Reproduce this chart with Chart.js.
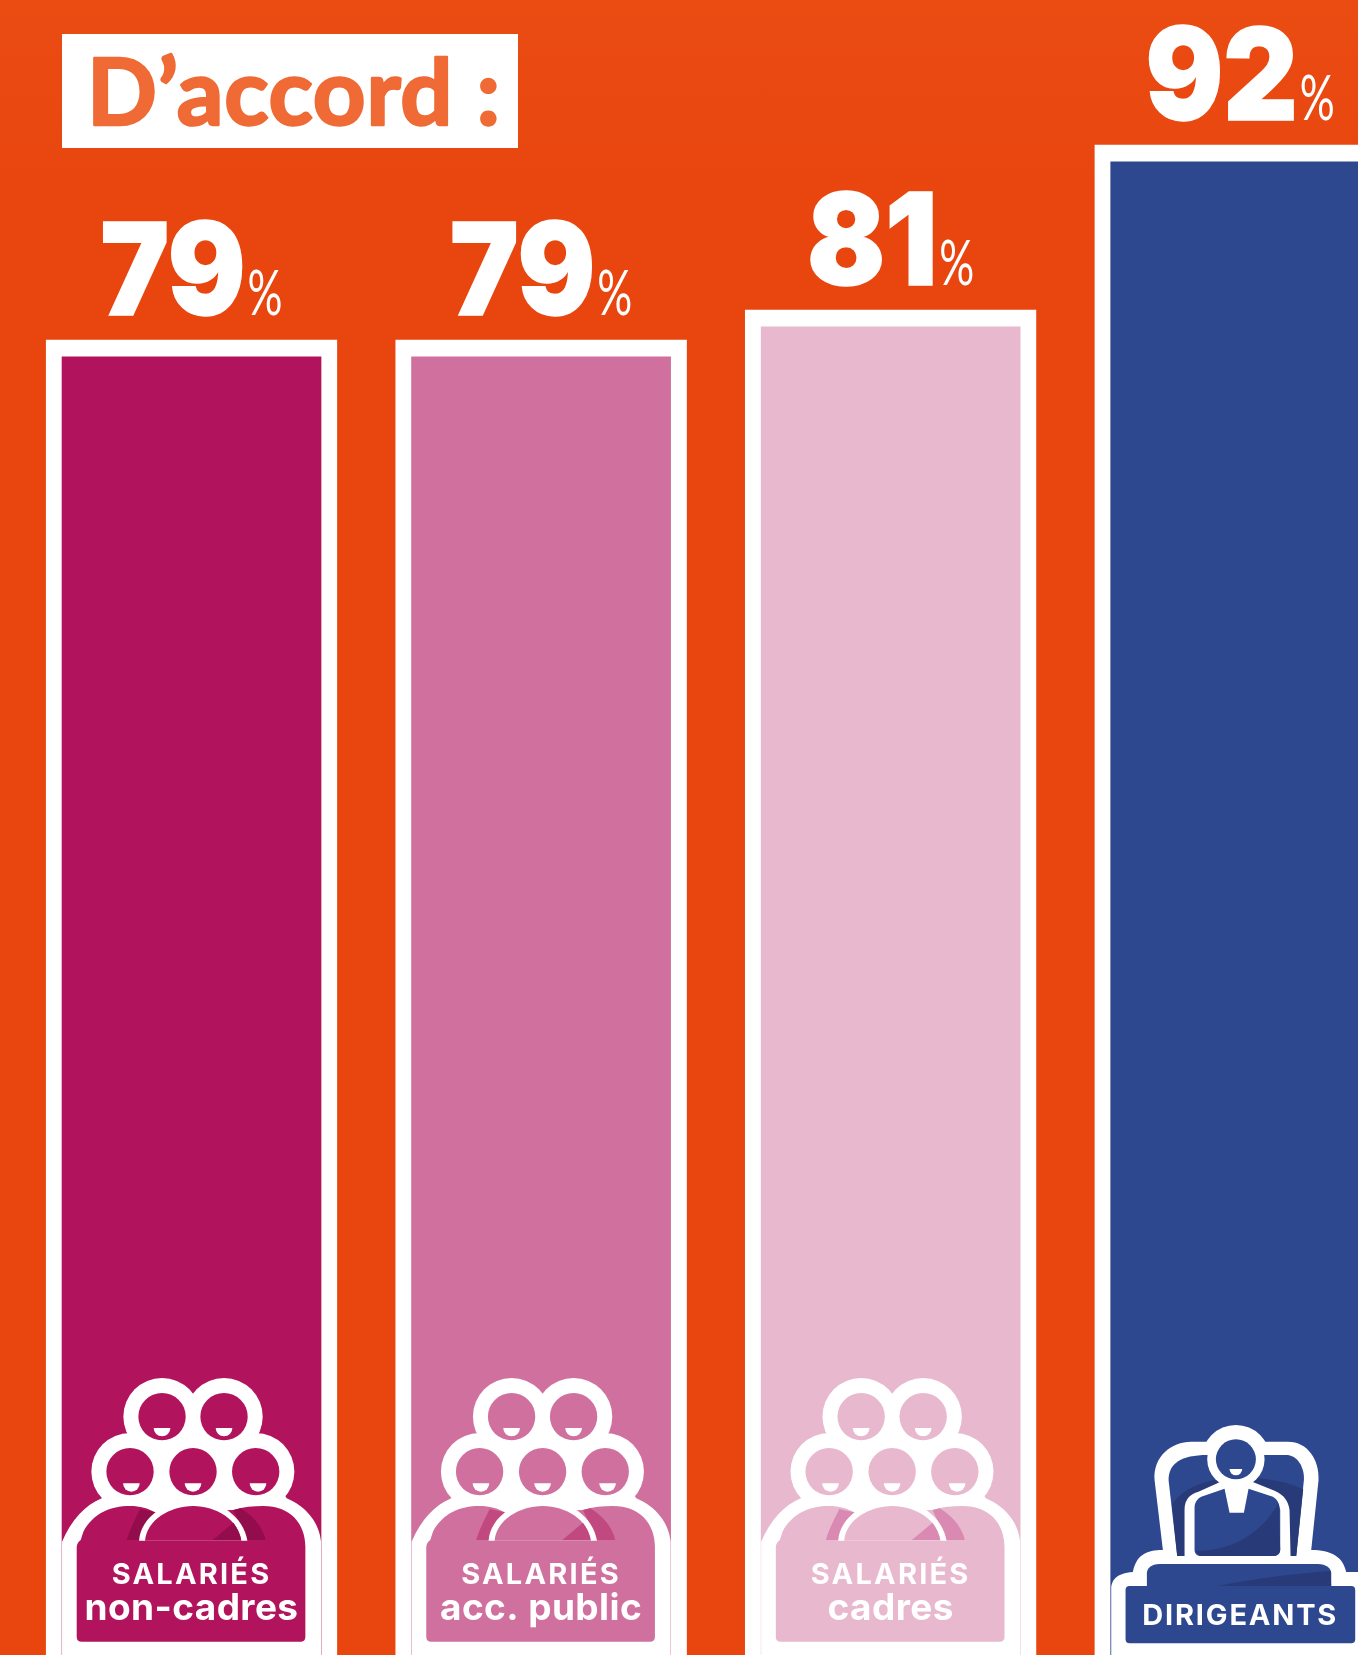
<!DOCTYPE html>
<html lang="fr">
<head>
<meta charset="utf-8">
<title>D'accord</title>
<script src="https://cdn.jsdelivr.net/npm/chart.js@4"></script>
<style>
  html, body { margin: 0; padding: 0; width: 1358px; height: 1655px; overflow: hidden; }
  body { background: linear-gradient(180deg, #ea4c12 0, #e9450f 220px, #e9450f 100%); }
  #wrap { width: 1358px; height: 1655px; overflow: hidden; position: relative; }
  canvas { display: block; }
</style>
</head>
<body>
<div id="wrap"><canvas id="chart" width="1415" height="1655"></canvas></div>
<script>
const categories = [["SALARIÉS", "non-cadres"], ["SALARIÉS", "acc. public"], ["SALARIÉS", "cadres"], ["DIRIGEANTS"]];
const values = [79, 79, 81, 92];
const titleText = "D’accord :";

const barColors = ["#b1145c", "#d0709f", "#e8b8ce", "#2e4890"];
const foldColors = ["#930d4d", "#c1497f", "#da8ab2", "#283b78"];
const white = "#ffffff";
const LATO = "Lato, 'Noto Sans', sans-serif";
const INTER = "Inter, 'Noto Sans', sans-serif";

function circle(ctx, x, y, r, color) {
  ctx.fillStyle = color;
  ctx.beginPath();
  ctx.arc(x, y, r, 0, Math.PI * 2);
  ctx.fill();
}

function mouth(ctx, x, y, r) {
  ctx.fillStyle = white;
  ctx.beginPath();
  ctx.arc(x, y, r, 0, Math.PI);
  ctx.closePath();
  ctx.fill();
}

// group of five people, sketched at 3x around a bar centred on x=484.5
function drawGroupIcon(ctx, barX, color, fold) {
  ctx.save();
  ctx.translate(barX - 484.5 / 3, 1350);
  ctx.scale(1 / 3, 1 / 3);

  ctx.fillStyle = white;
  [[396, 200], [582, 200], [300, 365], [489, 365], [677, 365]].forEach(h => circle(ctx, h[0], h[1], 116, white));
  ctx.beginPath();
  ctx.moveTo(96, 575);
  ctx.bezierCurveTo(125, 510, 165, 465, 215, 445);
  ctx.lineTo(300, 300);
  ctx.lineTo(677, 300);
  ctx.lineTo(770, 445);
  ctx.bezierCurveTo(830, 470, 868, 520, 873, 575);
  ctx.lineTo(873, 925);
  ctx.lineTo(96, 925);
  ctx.closePath();
  ctx.fill();

  [[396, 200], [582, 200], [300, 365], [489, 365], [677, 365]].forEach(h => circle(ctx, h[0], h[1], 71, color));
  [[396, 234], [582, 234], [304, 400], [489, 400], [684, 400]].forEach(m => mouth(ctx, m[0], m[1], 25));

  // shoulders and label box
  ctx.fillStyle = color;
  ctx.beginPath();
  ctx.moveTo(140, 590);
  ctx.quadraticCurveTo(142, 576, 152, 570);
  ctx.lineTo(160, 545);
  ctx.bezierCurveTo(190, 490, 240, 468, 300, 468);
  ctx.bezierCurveTo(330, 468, 355, 475, 375, 487);
  ctx.lineTo(610, 480);
  ctx.bezierCurveTo(640, 470, 670, 468, 700, 468);
  ctx.bezierCurveTo(780, 468, 826, 520, 826, 590);
  ctx.lineTo(826, 860);
  ctx.quadraticCurveTo(826, 875, 811, 875);
  ctx.lineTo(155, 875);
  ctx.quadraticCurveTo(140, 875, 140, 860);
  ctx.closePath();
  ctx.fill();

  // folds on the outer shoulders
  ctx.fillStyle = fold;
  ctx.beginPath();
  ctx.moveTo(330, 477);
  ctx.lineTo(375, 487);
  ctx.lineTo(327, 570);
  ctx.lineTo(290, 570);
  ctx.bezierCurveTo(300, 535, 320, 500, 330, 477);
  ctx.fill();
  ctx.beginPath();
  ctx.moveTo(610, 480);
  ctx.lineTo(632, 475);
  ctx.bezierCurveTo(680, 505, 700, 540, 707, 570);
  ctx.lineTo(652, 570);
  ctx.closePath();
  ctx.fill();

  // centre person
  ctx.fillStyle = white;
  ctx.beginPath();
  ctx.moveTo(327, 572);
  ctx.bezierCurveTo(332, 500, 410, 450, 489, 450);
  ctx.bezierCurveTo(570, 450, 640, 500, 652, 572);
  ctx.closePath();
  ctx.fill();
  ctx.fillStyle = color;
  ctx.beginPath();
  ctx.moveTo(345, 572);
  ctx.bezierCurveTo(350, 510, 420, 468, 489, 468);
  ctx.bezierCurveTo(560, 468, 625, 510, 634, 572);
  ctx.closePath();
  ctx.fill();
  ctx.fillStyle = fold;
  ctx.beginPath();
  ctx.moveTo(548, 570);
  ctx.lineTo(610, 518);
  ctx.bezierCurveTo(622, 535, 630, 552, 633, 570);
  ctx.closePath();
  ctx.fill();
  ctx.restore();
}

// person at a desk, sketched at 3x around a bar centred on x=477
function drawLeaderIcon(ctx, barX, color, fold) {
  ctx.save();
  ctx.translate(barX - 477 / 3, 1400);
  ctx.scale(1 / 3, 1 / 3);

  // white silhouette
  circle(ctx, 464, 178, 103, white);
  ctx.fillStyle = white;
  ctx.beginPath();
  ctx.moveTo(90, 765);
  ctx.lineTo(90, 565);
  ctx.bezierCurveTo(92, 540, 105, 520, 155, 516);
  ctx.bezierCurveTo(165, 465, 195, 450, 245, 450);
  ctx.lineTo(220, 240);
  ctx.bezierCurveTo(215, 170, 270, 125, 330, 125);
  ctx.lineTo(620, 125);
  ctx.bezierCurveTo(680, 125, 715, 180, 712, 240);
  ctx.lineTo(690, 450);
  ctx.bezierCurveTo(750, 450, 785, 470, 795, 516);
  ctx.lineTo(900, 516);
  ctx.lineTo(900, 765);
  ctx.closePath();
  ctx.fill();

  // chair back
  ctx.fillStyle = color;
  ctx.beginPath();
  ctx.moveTo(262, 240);
  ctx.bezierCurveTo(262, 190, 300, 165, 378, 165);
  ctx.lineTo(620, 165);
  ctx.bezierCurveTo(655, 170, 670, 210, 668, 240);
  ctx.lineTo(645, 468);
  ctx.lineTo(288, 468);
  ctx.closePath();
  ctx.fill();
  ctx.fillStyle = fold;
  ctx.beginPath();
  ctx.moveTo(272, 312);
  ctx.bezierCurveTo(310, 265, 350, 245, 464, 228);
  ctx.bezierCurveTo(560, 235, 620, 245, 666, 268);
  ctx.lineTo(645, 468);
  ctx.lineTo(288, 468);
  ctx.closePath();
  ctx.fill();

  // body outline, head ring and tie
  ctx.fillStyle = white;
  ctx.beginPath();
  ctx.moveTo(310, 470);
  ctx.lineTo(310, 330);
  ctx.bezierCurveTo(310, 295, 330, 282, 350, 276);
  ctx.lineTo(430, 240);
  ctx.lineTo(500, 240);
  ctx.lineTo(580, 272);
  ctx.bezierCurveTo(610, 285, 622, 305, 625, 330);
  ctx.lineTo(628, 470);
  ctx.closePath();
  ctx.fill();
  circle(ctx, 464, 178, 86, white);

  ctx.fillStyle = color;
  ctx.beginPath();
  ctx.moveTo(340, 450);
  ctx.lineTo(340, 325);
  ctx.bezierCurveTo(340, 305, 350, 295, 360, 290);
  ctx.lineTo(430, 266);
  ctx.lineTo(445, 338);
  ctx.lineTo(488, 338);
  ctx.lineTo(502, 266);
  ctx.lineTo(575, 290);
  ctx.bezierCurveTo(590, 298, 595, 315, 597, 330);
  ctx.lineTo(597, 450);
  ctx.quadraticCurveTo(595, 468, 575, 468);
  ctx.lineTo(355, 468);
  ctx.quadraticCurveTo(340, 465, 340, 450);
  ctx.fill();
  ctx.fillStyle = fold;
  ctx.beginPath();
  ctx.moveTo(342, 452);
  ctx.bezierCurveTo(450, 456, 540, 400, 592, 310);
  ctx.lineTo(597, 450);
  ctx.quadraticCurveTo(595, 468, 575, 468);
  ctx.lineTo(355, 468);
  ctx.closePath();
  ctx.fill();

  circle(ctx, 464, 178, 60, color);
  mouth(ctx, 464, 207, 19);

  // desk
  ctx.fillStyle = color;
  ctx.beginPath();
  ctx.moveTo(197, 565);
  ctx.lineTo(197, 520);
  ctx.bezierCurveTo(197, 505, 210, 492, 235, 492);
  ctx.lineTo(710, 492);
  ctx.bezierCurveTo(735, 492, 750, 505, 750, 520);
  ctx.lineTo(750, 565);
  ctx.closePath();
  ctx.fill();
  ctx.fillStyle = fold;
  ctx.beginPath();
  ctx.moveTo(410, 558);
  ctx.bezierCurveTo(520, 535, 650, 520, 748, 513);
  ctx.lineTo(750, 558);
  ctx.closePath();
  ctx.fill();

  // label box
  ctx.fillStyle = color;
  ctx.beginPath();
  ctx.roundRect(133, 558, 689, 172, 12);
  ctx.fill();
  ctx.restore();
}

const decorPlugin = {
  id: "decor",
  afterDatasetsDraw(chart) {
    const ctx = chart.ctx;
    const meta = chart.getDatasetMeta(0);

    // title box
    ctx.save();
    ctx.fillStyle = white;
    ctx.fillRect(62, 34, 456, 114);
    ctx.fillStyle = "#ef6a35";
    ctx.strokeStyle = "#ef6a35";
    ctx.lineWidth = 2.5;
    ctx.lineJoin = "round";
    ctx.font = "700 92px " + LATO;
    ctx.letterSpacing = "0.8px";
    ctx.textAlign = "left";
    ctx.textBaseline = "alphabetic";
    ctx.strokeText(titleText, 87, 125);
    ctx.fillText(titleText, 87, 125);
    ctx.restore();

    meta.data.forEach((bar, i) => {
      ctx.save();
      if (categories[i].length > 1) drawGroupIcon(ctx, bar.x, barColors[i], foldColors[i]);
      else drawLeaderIcon(ctx, bar.x, barColors[i], foldColors[i]);

      // value above the bar: big heavy digits then a thin narrow %
      const digits = String(values[i]);
      const baseline = bar.y - 25;
      const squeeze = 0.9;
      ctx.fillStyle = white;
      ctx.strokeStyle = white;
      ctx.lineWidth = 1.5;
      ctx.textBaseline = "alphabetic";
      ctx.textAlign = "left";
      ctx.font = "900 128px " + INTER;
      const digitWidth = ctx.measureText(digits).width * squeeze;
      const pctWidth = 35;
      const left = bar.x - (digitWidth + 2 + pctWidth) / 2;
      ctx.save();
      ctx.translate(left, baseline);
      ctx.scale(squeeze, 1);
      ctx.strokeText(digits, 0, 0);
      ctx.fillText(digits, 0, 0);
      ctx.restore();
      ctx.font = "400 62px " + LATO;
      const rawPct = ctx.measureText("%").width;
      ctx.save();
      ctx.translate(left + digitWidth + 2, baseline);
      ctx.scale(pctWidth / rawPct, 1);
      ctx.fillText("%", 0, 0);
      ctx.restore();

      // category text in the label box
      ctx.textAlign = "center";
      const lines = categories[i];
      if (lines.length > 1) {
        ctx.font = "700 29px " + INTER;
        ctx.letterSpacing = "2.2px";
        ctx.fillText(lines[0], bar.x, 1584);
        ctx.font = "700 37px " + INTER;
        ctx.letterSpacing = "0.4px";
        ctx.fillText(lines[1], bar.x, 1620);
      } else {
        ctx.font = "700 29px " + INTER;
        ctx.letterSpacing = "1.8px";
        ctx.fillText(lines[0], bar.x, 1625);
      }
      ctx.restore();
    });
  }
};

// 15 px per point, the bars run off the bottom of the picture
const yMin = -8.68;
const yMax = 101.65;

new Chart(document.getElementById("chart").getContext("2d"), {
  type: "bar",
  data: {
    labels: categories.map(c => c.join(" ")),
    datasets: [{
      data: values,
      base: yMin,
      backgroundColor: barColors,
      borderColor: white,
      borderWidth: { top: 17, left: 16, right: 16, bottom: 0 },
      borderSkipped: false,
      barThickness: 291
    }]
  },
  plugins: [decorPlugin],
  options: {
    responsive: false,
    animation: false,
    layout: { padding: { left: 16.75 } },
    plugins: {
      legend: { display: false },
      tooltip: { enabled: false },
      title: { display: false }
    },
    scales: {
      x: { display: false, grid: { display: false } },
      y: { display: false, min: yMin, max: yMax, grid: { display: false } }
    }
  }
});
</script>
</body>
</html>
